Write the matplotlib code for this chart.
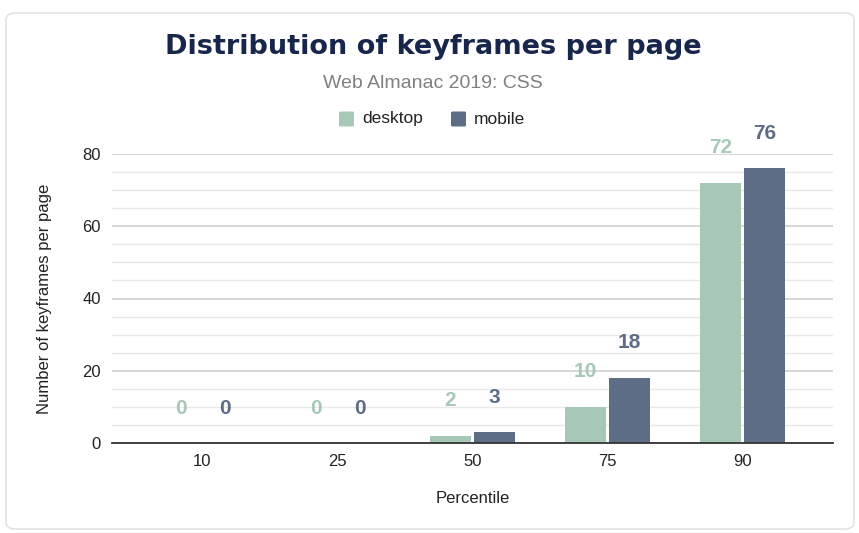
import matplotlib
matplotlib.use('Agg')
import matplotlib.pyplot as plt
from matplotlib.patches import FancyBboxPatch
import numpy as np

# data
percentiles = ['10', '25', '50', '75', '90']
desktop = [0, 0, 2, 10, 72]
mobile = [0, 0, 3, 18, 76]

c_desktop = '#a7c8b7'
c_mobile = '#5e6d86'

plt.rcParams['font.family'] = ['Liberation Sans', 'DejaVu Sans']

fig = plt.figure(figsize=(8.59, 5.33), dpi=100)

# card border
fig.patches.append(FancyBboxPatch((6 / 859, 4 / 533), 848 / 859, 516 / 533,
                                  boxstyle='round,pad=0,rounding_size=0.012',
                                  transform=fig.transFigure, facecolor='white',
                                  edgecolor='#e3e3e3', linewidth=1.2, zorder=-5))

ax = fig.add_axes([112 / 859, 1 - 443 / 533, 721 / 859, 289 / 533])

x = np.arange(len(percentiles))
w = 0.31
gap = 0.008
ax.bar(x - w / 2 - gap, desktop, w, color=c_desktop, zorder=3)
ax.bar(x + w / 2 + gap, mobile, w, color=c_mobile, zorder=3)

for xi, v in zip(x, desktop):
    ax.annotate(str(v), (xi - w / 2 - gap, v), xytext=(0, 35), textcoords='offset pixels',
                ha='center', va='center', fontsize=15, fontweight='bold', color=c_desktop)
for xi, v in zip(x, mobile):
    ax.annotate(str(v), (xi + w / 2 + gap, v), xytext=(0, 35), textcoords='offset pixels',
                ha='center', va='center', fontsize=15, fontweight='bold', color=c_mobile)

ax.set_xlim(-0.67, 4.67)
ax.set_ylim(0, 80)
ax.set_yticks([0, 20, 40, 60, 80])
ax.set_yticks(np.arange(0, 81, 5), minor=True)
ax.set_xticks(x)
ax.set_xticklabels(percentiles)
ax.grid(axis='y', which='major', color='#d0d0d0', linewidth=1.2, zorder=0)
ax.grid(axis='y', which='minor', color='#e8e8e8', linewidth=1.0, zorder=0)
ax.tick_params(axis='both', which='both', length=0, labelsize=12, colors='#222222')
ax.tick_params(axis='x', pad=8)
ax.tick_params(axis='y', pad=8)
for s in ['top', 'right', 'left']:
    ax.spines[s].set_visible(False)
ax.spines['bottom'].set_color('#333333')
ax.spines['bottom'].set_linewidth(1.3)
ax.spines['bottom'].set_zorder(4)

ax.set_xlabel('Percentile', fontsize=12, color='#222222', labelpad=16)
ax.set_ylabel('Number of keyframes per page', fontsize=12, color='#222222', labelpad=22)

fig.text(433 / 859, 1 - 47 / 533, 'Distribution of keyframes per page', ha='center', va='center',
         fontsize=19.5, fontweight='bold', color='#17264a', family=['DejaVu Sans'])
fig.text(433 / 859, 1 - 83 / 533, 'Web Almanac 2019: CSS', ha='center', va='center',
         fontsize=14, color='#808080')

# legend
ly = 1 - 119 / 533
sq = 15
for lx, col, lab in [(339, c_desktop, 'desktop'), (451, c_mobile, 'mobile')]:
    fig.patches.append(FancyBboxPatch((lx / 859, ly - sq / 2 / 533), sq / 859, sq / 533,
                                      boxstyle='round,pad=0,rounding_size=0.002',
                                      transform=fig.transFigure, facecolor=col,
                                      edgecolor='none'))
    fig.text((lx + sq + 8) / 859, ly, lab, ha='left', va='center', fontsize=12.5, color='#222222')

fig.savefig('out.png', dpi=100)
